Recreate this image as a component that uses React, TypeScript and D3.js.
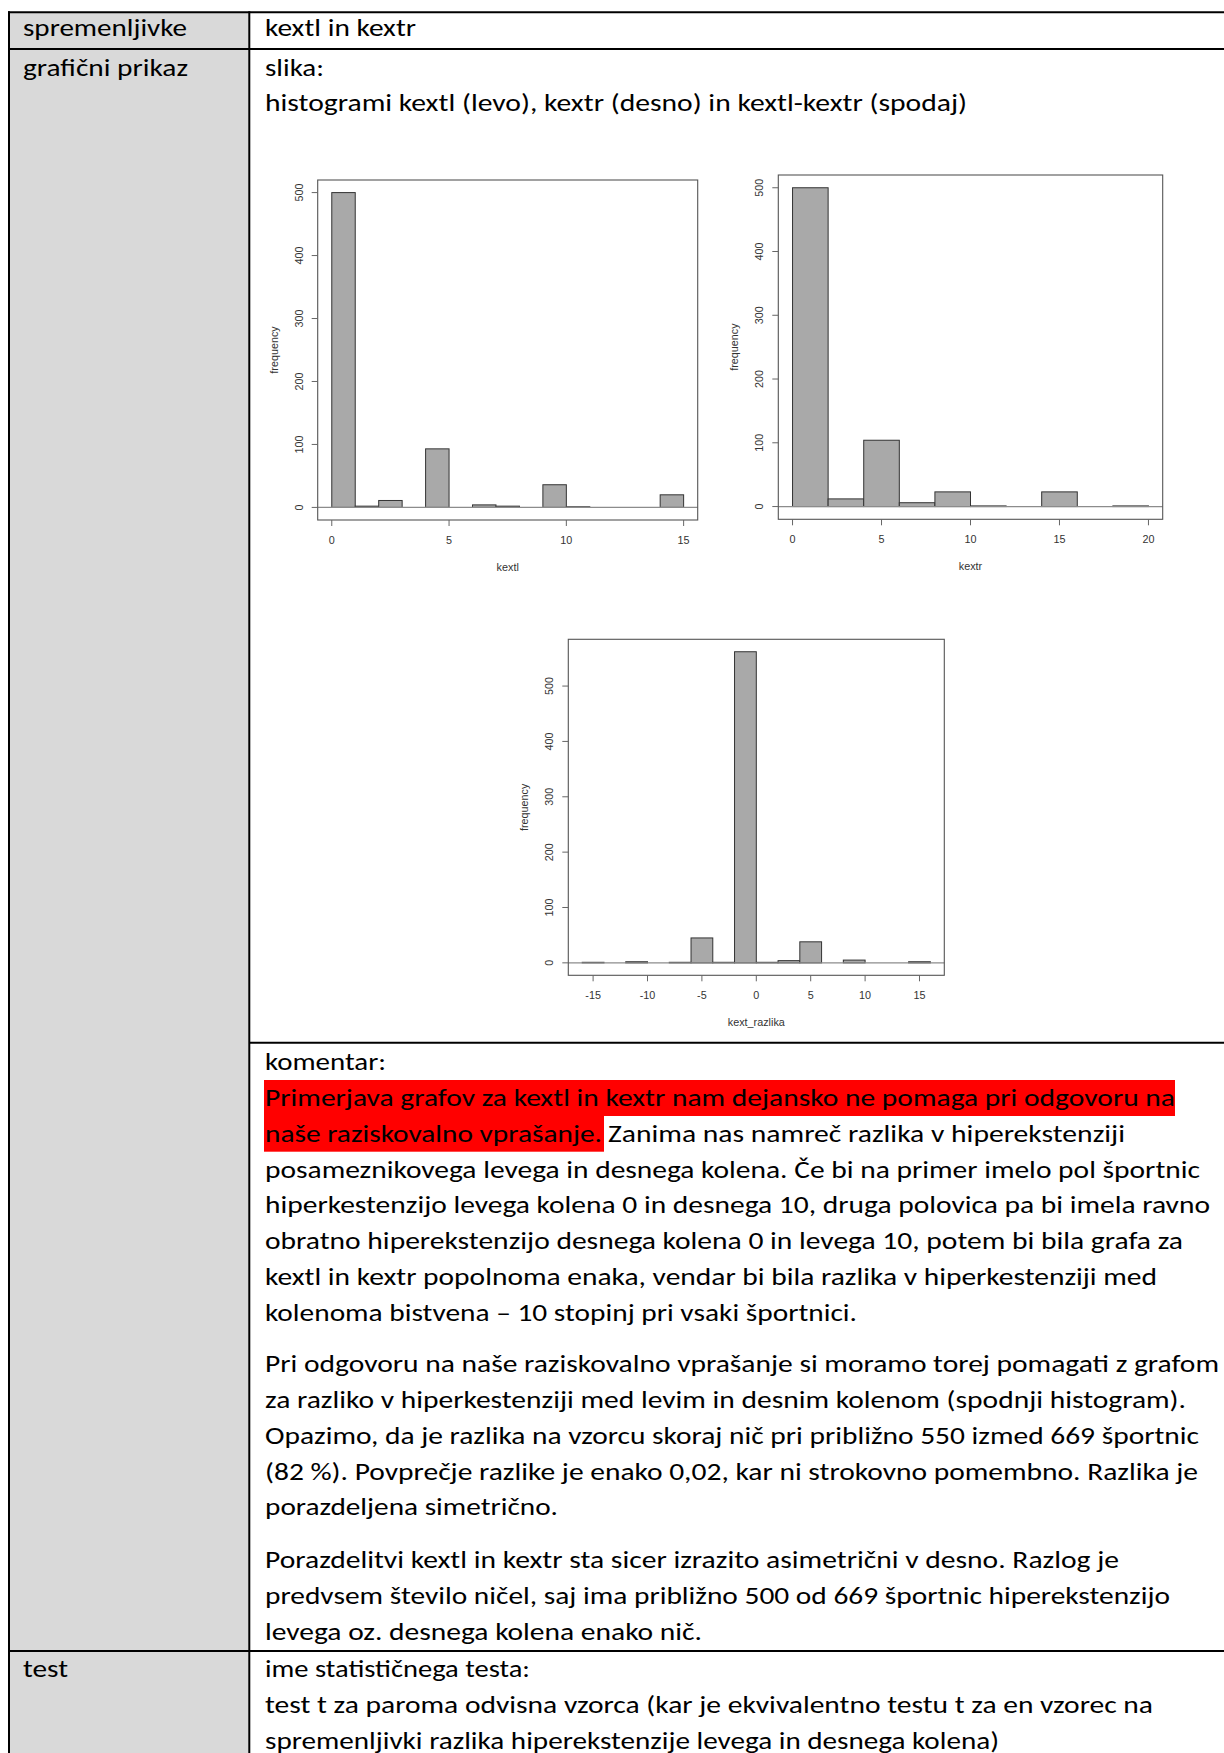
import React from "react";
import * as d3 from "d3";

// Histogram counts (bin width and first edge given separately)
const kextlCounts = [500, 2, 11, 0, 93, 0, 4, 2, 0, 36, 1, 0, 0, 0, 20];
const kextlStart = 0;
const kextlBinWidth = 1;
const kextlTicks = [0, 5, 10, 15];

const kextrCounts = [500, 12, 104, 6, 23, 1, 0, 23, 0, 1];
const kextrStart = 0;
const kextrBinWidth = 2;
const kextrTicks = [0, 5, 10, 15, 20];

const razlikaCounts = [1, 0, 2, 0, 1, 45, 1, 562, 1, 4, 38, 0, 5, 0, 0, 2];
const razlikaStart = -16;
const razlikaBinWidth = 2;
const razlikaTicks = [-15, -10, -5, 0, 5, 10, 15];

const freqTicks = [0, 100, 200, 300, 400, 500];

const BODY_FONT = "Carlito, Calibri, Lato, 'Liberation Sans', sans-serif";
const PLOT_FONT = "'Liberation Sans', Arial, sans-serif";

type Frame = { left: number; right: number; top: number; bottom: number };

function Histogram(props: {
  counts: number[];
  start: number;
  binWidth: number;
  ticks: number[];
  frame: Frame;
  label: string;
}) {
  const { counts, start, binWidth, ticks, frame, label } = props;
  const lo = start;
  const hi = start + counts.length * binWidth;
  const pad = (hi - lo) * 0.04;
  const x = d3.scaleLinear().domain([lo - pad, hi + pad]).range([frame.left, frame.right]);
  const maxC = d3.max(counts) as number;
  const y = d3
    .scaleLinear()
    .domain([-0.04 * maxC, 1.04 * maxC])
    .range([frame.bottom, frame.top]);
  const bins = counts.map((c, i) => ({
    x0: start + i * binWidth,
    x1: start + (i + 1) * binWidth,
    c,
  }));
  const yTicks = freqTicks.filter((t) => t <= maxC);
  const cx = (frame.left + frame.right) / 2;
  const cy = (frame.top + frame.bottom) / 2;
  return (
    <g fontFamily={PLOT_FONT} fontSize={10.8} fill="#333">
      {bins
        .filter((b) => b.c > 0)
        .map((b, i) => (
          <rect
            key={i}
            x={x(b.x0)}
            y={y(b.c)}
            width={x(b.x1) - x(b.x0)}
            height={y(0) - y(b.c)}
            fill="#a9a9a9"
            stroke="#333"
            strokeWidth={1}
          />
        ))}
      <line x1={frame.left} x2={frame.right} y1={y(0)} y2={y(0)} stroke="#8c8c8c" strokeWidth={1.3} />
      <rect
        x={frame.left}
        y={frame.top}
        width={frame.right - frame.left}
        height={frame.bottom - frame.top}
        fill="none"
        stroke="#555"
        strokeWidth={1.1}
      />
      {yTicks.map((t) => (
        <g key={"y" + t}>
          <line x1={frame.left - 6} x2={frame.left} y1={y(t)} y2={y(t)} stroke="#666" strokeWidth={1} />
          <text
            transform={`translate(${frame.left - 19},${y(t)}) rotate(-90)`}
            textAnchor="middle"
            dominantBaseline="central"
          >
            {t}
          </text>
        </g>
      ))}
      {ticks.map((t) => (
        <g key={"x" + t}>
          <line x1={x(t)} x2={x(t)} y1={frame.bottom} y2={frame.bottom + 6} stroke="#666" strokeWidth={1} />
          <text x={x(t)} y={frame.bottom + 20} textAnchor="middle" dominantBaseline="central">
            {t}
          </text>
        </g>
      ))}
      <text x={cx} y={frame.bottom + 47} textAnchor="middle" dominantBaseline="central">
        {label}
      </text>
      <text
        transform={`translate(${frame.left - 44},${cy}) rotate(-90)`}
        textAnchor="middle"
        dominantBaseline="central"
      >
        frequency
      </text>
    </g>
  );
}

type Line = { t: string; x: number; end: number; y: number };

const lines: Line[] = [
  { t: "spremenljivke", x: 23, end: 187, y: 36 },
  { t: "kextl in kextr", x: 265, end: 416, y: 36 },
  { t: "grafični prikaz", x: 23, end: 188, y: 76 },
  { t: "slika:", x: 265, end: 324, y: 76 },
  { t: "histogrami kextl (levo), kextr (desno) in kextl-kextr (spodaj)", x: 265, end: 967, y: 111 },
  { t: "komentar:", x: 265, end: 386, y: 1070 },
  { t: "Primerjava grafov za kextl in kextr nam dejansko ne pomaga pri odgovoru na", x: 265, end: 1175, y: 1106 },
  { t: "naše raziskovalno vprašanje.", x: 265, end: 602, y: 1141.7 },
  { t: "Zanima nas namreč razlika v hiperekstenziji", x: 608, end: 1125, y: 1141.7 },
  { t: "posameznikovega levega in desnega kolena. Če bi na primer imelo pol športnic", x: 265, end: 1200, y: 1177.7 },
  { t: "hiperkestenzijo levega kolena 0 in desnega 10, druga polovica pa bi imela ravno", x: 265, end: 1210, y: 1213.3 },
  { t: "obratno hiperekstenzijo desnega kolena 0 in levega 10, potem bi bila grafa za", x: 265, end: 1183, y: 1249.3 },
  { t: "kextl in kextr popolnoma enaka, vendar bi bila razlika v hiperkestenziji med", x: 265, end: 1157, y: 1285 },
  { t: "kolenoma bistvena – 10 stopinj pri vsaki športnici.", x: 265, end: 857, y: 1321 },
  { t: "Pri odgovoru na naše raziskovalno vprašanje si moramo torej pomagati z grafom", x: 265, end: 1219, y: 1372 },
  { t: "za razliko v hiperkestenziji med levim in desnim kolenom (spodnji histogram).", x: 265, end: 1186, y: 1408 },
  { t: "Opazimo, da je razlika na vzorcu skoraj nič pri približno 550 izmed 669 športnic", x: 265, end: 1199, y: 1444 },
  { t: "(82 %). Povprečje razlike je enako 0,02, kar ni strokovno pomembno. Razlika je", x: 265, end: 1198, y: 1480 },
  { t: "porazdeljena simetrično.", x: 265, end: 558, y: 1515 },
  { t: "Porazdelitvi kextl in kextr sta sicer izrazito asimetrični v desno. Razlog je", x: 265, end: 1119, y: 1568 },
  { t: "predvsem število ničel, saj ima približno 500 od 669 športnic hiperekstenzijo", x: 265, end: 1170, y: 1604 },
  { t: "levega oz. desnega kolena enako nič.", x: 265, end: 702, y: 1640 },
  { t: "test", x: 23, end: 68, y: 1677 },
  { t: "ime statističnega testa:", x: 265, end: 530, y: 1677 },
  { t: "test t za paroma odvisna vzorca (kar je ekvivalentno testu t za en vzorec na", x: 265, end: 1153, y: 1713 },
  { t: "spremenljivki razlika hiperekstenzije levega in desnega kolena)", x: 265, end: 999, y: 1749 },
];

export default function App() {
  const W = 1224;
  const H = 1753;
  return (
    <svg
      width={W}
      height={H}
      viewBox={`0 0 ${W} ${H}`}
      style={{ position: "absolute", left: 0, top: 0, background: "#fff" }}
    >
      <rect x={0} y={0} width={W} height={H} fill="#fff" />
      {/* label column */}
      <rect x={9} y={12} width={240.3} height={H - 12} fill="#d9d9d9" />

      {/* red highlight behind the first sentence of the comment */}
      <rect x={264} y={1080} width={1175 - 264} height={36} fill="#ff0000" />
      <rect x={264} y={1116} width={604 - 264} height={35.7} fill="#ff0000" />

      {/* table rules */}
      <g stroke="#000" strokeWidth={2}>
        <line x1={8} x2={W} y1={12.3} y2={12.3} />
        <line x1={8} x2={W} y1={49} y2={49} />
        <line x1={249.3} x2={W} y1={1042.7} y2={1042.7} />
        <line x1={8} x2={W} y1={1651} y2={1651} />
        <line x1={9} x2={9} y1={11.3} y2={H} />
        <line x1={249.3} x2={249.3} y1={11.3} y2={H} />
      </g>

      <Histogram
        counts={kextlCounts}
        start={kextlStart}
        binWidth={kextlBinWidth}
        ticks={kextlTicks}
        frame={{ left: 317.7, right: 697.7, top: 180, bottom: 520 }}
        label="kextl"
      />
      <Histogram
        counts={kextrCounts}
        start={kextrStart}
        binWidth={kextrBinWidth}
        ticks={kextrTicks}
        frame={{ left: 778.3, right: 1162.7, top: 175, bottom: 519.3 }}
        label="kextr"
      />
      <Histogram
        counts={razlikaCounts}
        start={razlikaStart}
        binWidth={razlikaBinWidth}
        ticks={razlikaTicks}
        frame={{ left: 568.3, right: 944.3, top: 639.3, bottom: 975.3 }}
        label="kext_razlika"
      />

      <g fontFamily={BODY_FONT} fontSize={24} fill="#000">
        {lines.map((l, i) => (
          <text key={i} x={l.x} y={l.y} textLength={l.end - l.x} lengthAdjust="spacingAndGlyphs">
            {l.t}
          </text>
        ))}
      </g>
    </svg>
  );
}
